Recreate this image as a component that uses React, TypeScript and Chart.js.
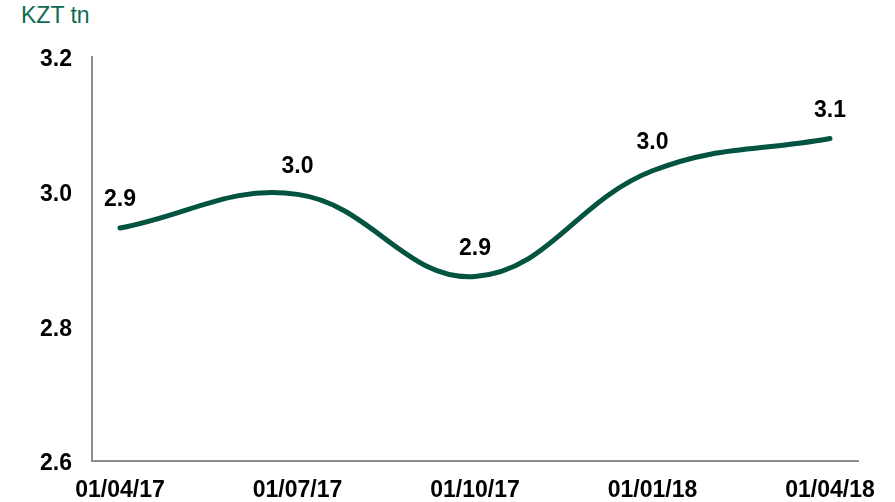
import React, { useEffect, useRef } from "react";
import { Chart, registerables } from "chart.js";

Chart.register(...registerables);

const categories = ["01/04/17", "01/07/17", "01/10/17", "01/01/18", "01/04/18"];
const values = [2.946, 2.996, 2.874, 3.031, 3.079];
const dataLabels = ["2.9", "3.0", "2.9", "3.0", "3.1"];
const yTicks = [2.6, 2.8, 3.0, 3.2];
const unitLabel = "KZT tn";

const FONT = "'Liberation Sans', Arial, sans-serif";
const LINE_COLOR = "#02533f";

const valueLabelPlugin = {
  id: "valueLabels",
  afterDatasetsDraw(chart: any) {
    const meta = chart.getDatasetMeta(0);
    const ctx = chart.ctx;
    ctx.save();
    ctx.font = `bold 23px ${FONT}`;
    ctx.fillStyle = "#000";
    ctx.textAlign = "center";
    ctx.textBaseline = "middle";
    meta.data.forEach((pt: any, i: number) => {
      ctx.fillText(dataLabels[i], pt.x, pt.y - 28);
    });
    ctx.restore();
  },
};

export default function App() {
  const ref = useRef<HTMLCanvasElement | null>(null);

  useEffect(() => {
    if (!ref.current) return;
    const chart = new Chart(ref.current, {
      type: "line",
      data: {
        datasets: [
          {
            data: values.map((v, i) => ({ x: i, y: v })),
            borderColor: LINE_COLOR,
            borderWidth: 5,
            borderCapStyle: "round",
            borderJoinStyle: "round",
            pointRadius: 0,
            tension: 0.4,
            fill: false,
          },
        ],
      },
      options: {
        animation: false,
        responsive: true,
        maintainAspectRatio: false,
        layout: { padding: { top: 57, right: 37, left: 0, bottom: 0 } },
        plugins: { legend: { display: false }, tooltip: { enabled: false }, title: { display: false } },
        scales: {
          x: {
            type: "linear",
            min: -0.158,
            max: categories.length - 1 + 0.158,
            afterBuildTicks: (axis: any) => {
              axis.ticks = categories.map((_, i) => ({ value: i }));
            },
            afterFit: (axis: any) => {
              axis.height = 41;
            },
            grid: { display: false, drawTicks: false },
            border: { display: true, color: "#8c8c8c", width: 2 },
            ticks: {
              autoSkip: false,
              maxRotation: 0,
              padding: 16,
              color: "#000",
              font: { family: FONT, size: 23, weight: "bold" },
              callback: (v: any) => categories[Math.round(Number(v))] ?? "",
            },
          },
          y: {
            type: "linear",
            min: yTicks[0],
            max: yTicks[yTicks.length - 1],
            afterBuildTicks: (axis: any) => {
              axis.ticks = yTicks.map((v) => ({ value: v }));
            },
            afterFit: (axis: any) => {
              axis.width = 92;
            },
            grid: { display: false, drawTicks: false },
            border: { display: true, color: "#8c8c8c", width: 2 },
            ticks: {
              padding: 20,
              labelOffset: 3,
              color: "#000",
              font: { family: FONT, size: 23, weight: "bold" },
              callback: (v: any) => Number(v).toFixed(1),
            },
          },
        },
      } as any,
      plugins: [valueLabelPlugin],
    });
    return () => chart.destroy();
  }, []);

  return (
    <div style={{ position: "fixed", left: 0, top: 0, width: 895, height: 502, background: "#fff" }}>
      <div
        style={{
          position: "absolute",
          left: 21,
          top: 4,
          fontFamily: FONT,
          fontSize: 23,
          lineHeight: "23px",
          color: "#0e6a52",
          whiteSpace: "nowrap",
        }}
      >
        {unitLabel}
      </div>
      <canvas ref={ref} style={{ position: "absolute", left: 0, top: 0 }} />
    </div>
  );
}
